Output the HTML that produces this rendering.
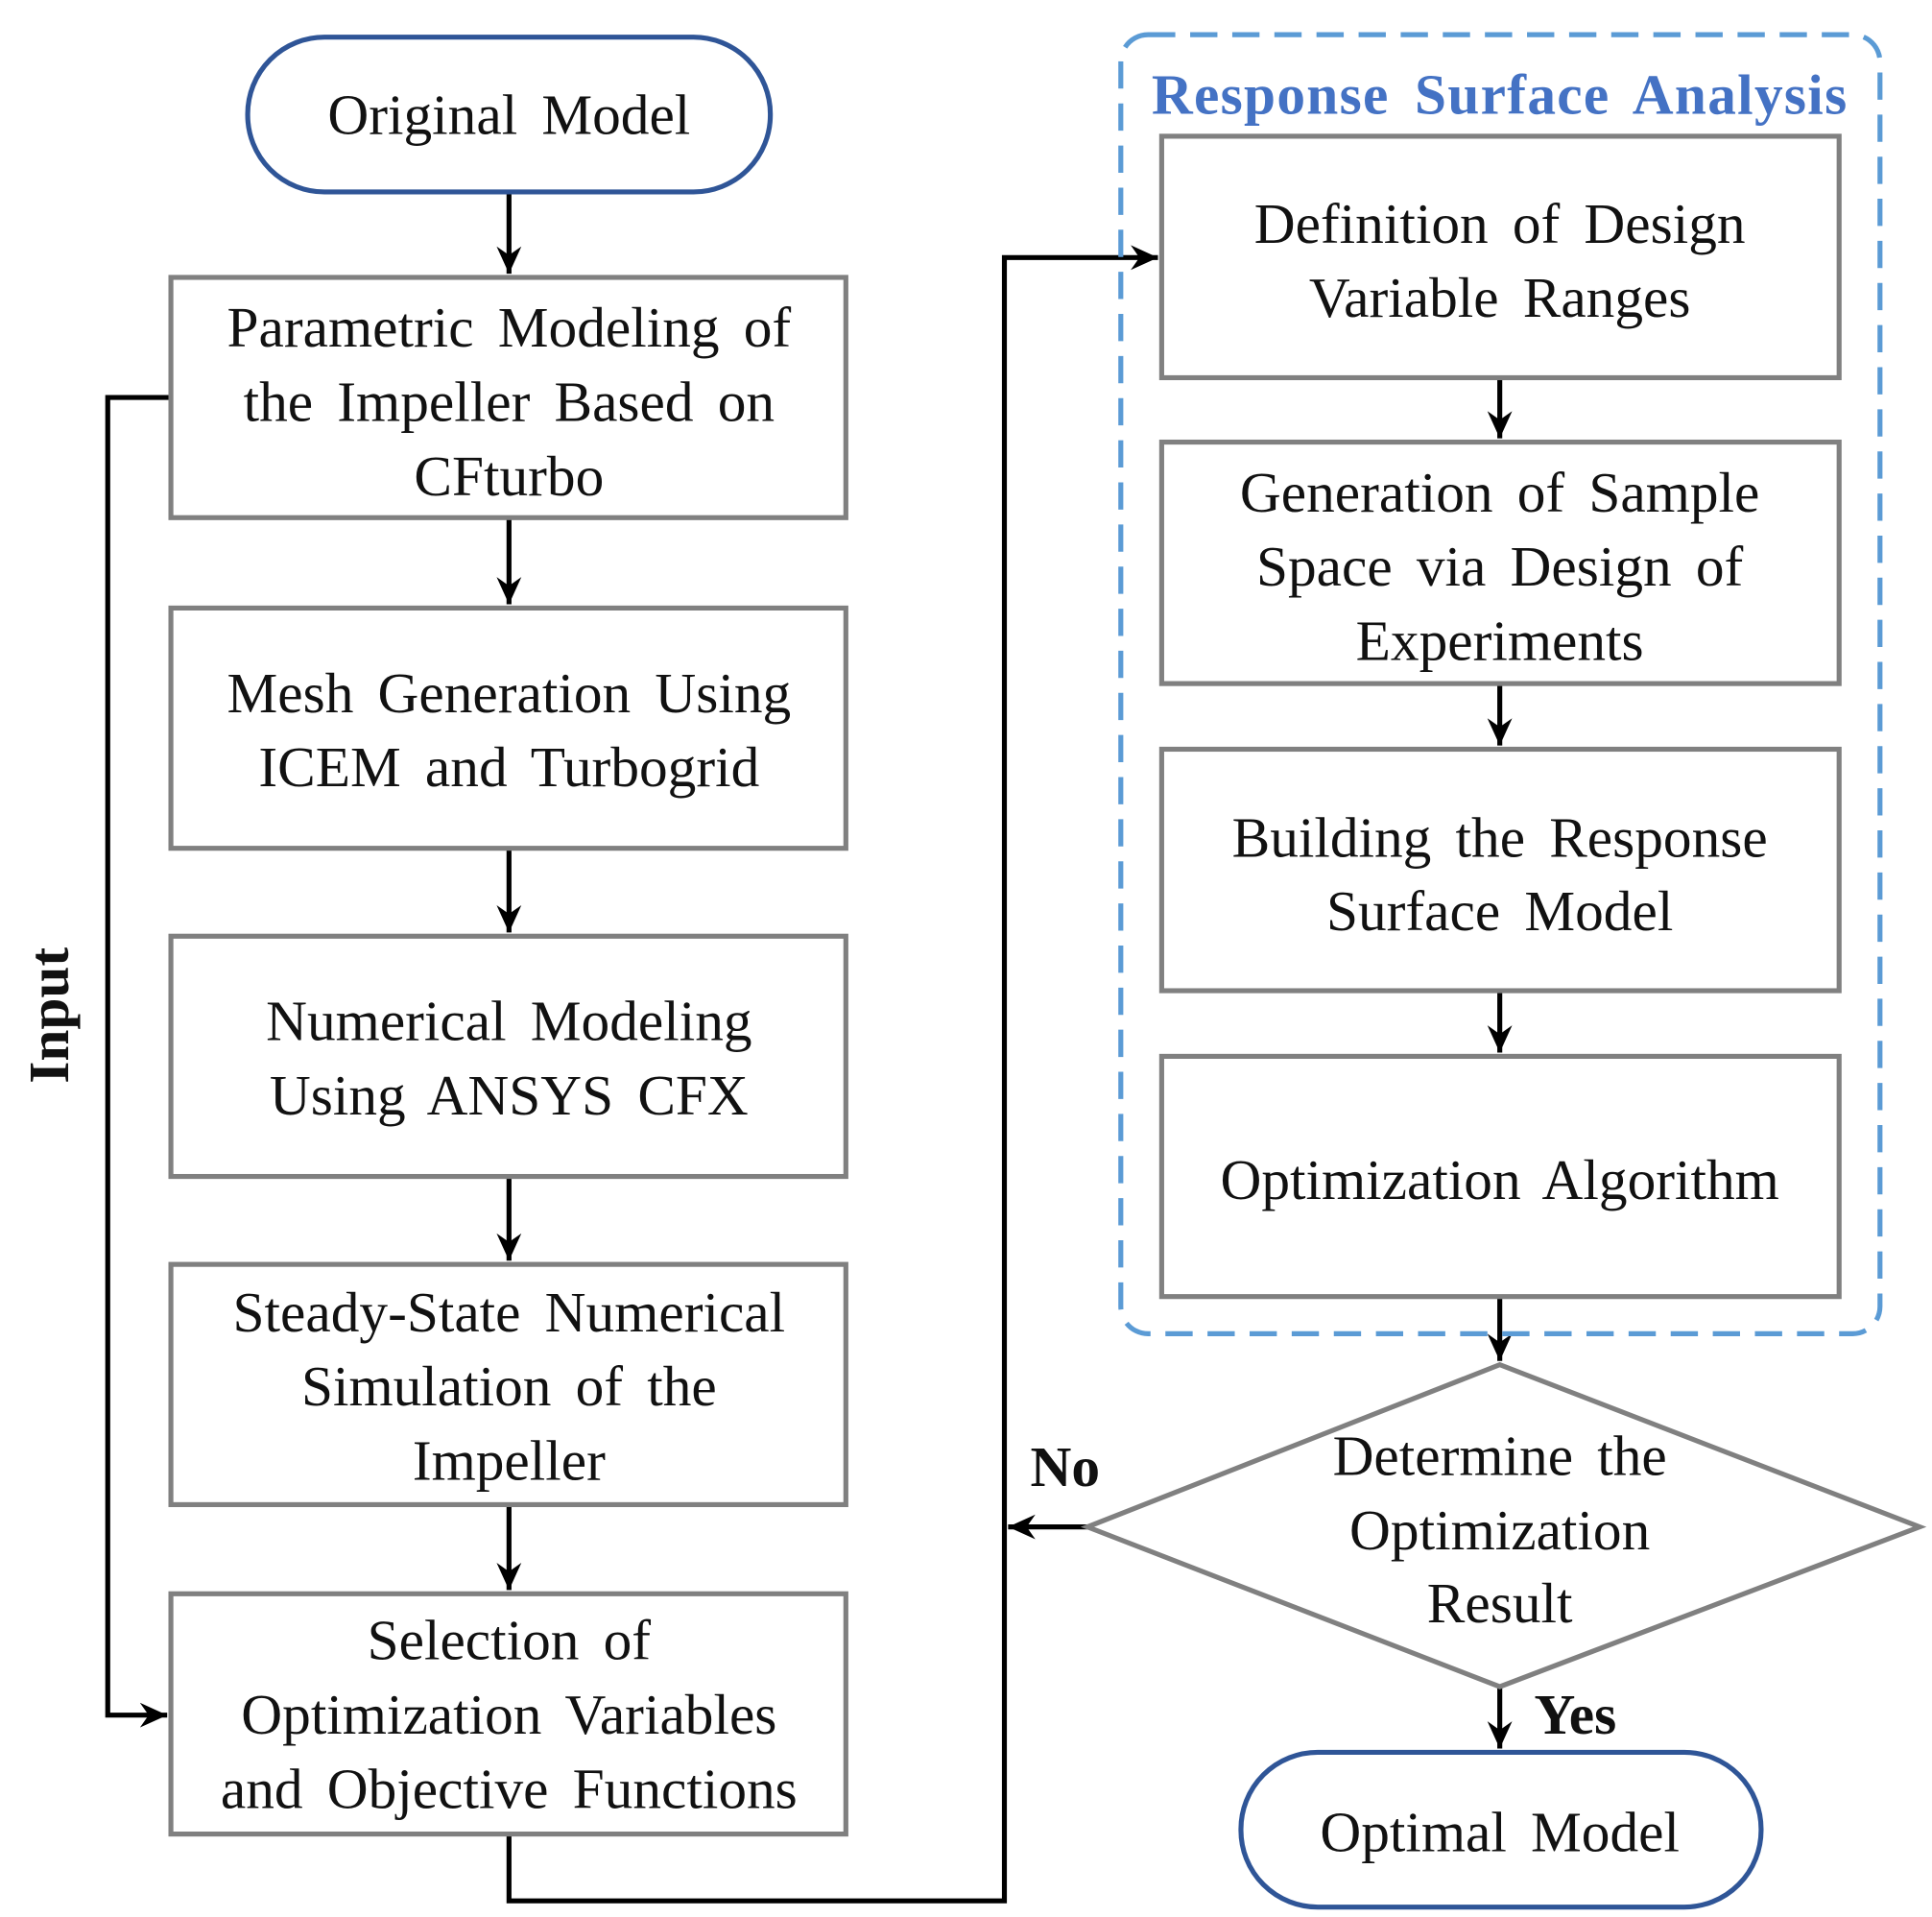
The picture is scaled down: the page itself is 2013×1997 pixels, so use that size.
<!DOCTYPE html>
<html><head><meta charset="utf-8"><style>
html,body{margin:0;padding:0;background:#fff;}
svg{display:block;}
text{font-family:"Liberation Serif",serif;font-size:46px;fill:#111;text-anchor:middle;word-spacing:8px;}
.b{font-weight:bold;}
</style></head><body>
<svg width="2013" height="1997" viewBox="0 0 1560 1548" preserveAspectRatio="none" xmlns="http://www.w3.org/2000/svg">
<defs>
<marker id="ar" markerWidth="24" markerHeight="24" refX="22" refY="12" orient="auto" markerUnits="userSpaceOnUse"><path d="M0,2 L22,12 L0,22 L7,12 z" fill="#000"/></marker></defs>
<g stroke="#000" stroke-width="4" fill="none">
<line x1="411" y1="155" x2="411" y2="221" marker-end="url(#ar)"/>
<line x1="411" y1="418" x2="411" y2="488" marker-end="url(#ar)"/>
<line x1="411" y1="685" x2="411" y2="753" marker-end="url(#ar)"/>
<line x1="411" y1="950" x2="411" y2="1018" marker-end="url(#ar)"/>
<line x1="411" y1="1215" x2="411" y2="1284" marker-end="url(#ar)"/>
<polyline points="138,321 87,321 87,1385 135,1385" marker-end="url(#ar)"/>
<polyline points="411,1481 411,1535 811,1535 811,208 935,208" marker-end="url(#ar)"/>
<line x1="1211" y1="305" x2="1211" y2="354" marker-end="url(#ar)"/>
<line x1="1211" y1="552" x2="1211" y2="602" marker-end="url(#ar)"/>
<line x1="1211" y1="800" x2="1211" y2="850" marker-end="url(#ar)"/>
<line x1="1211" y1="1047" x2="1211" y2="1099" marker-end="url(#ar)"/>
<line x1="878" y1="1233" x2="814" y2="1233" marker-end="url(#ar)"/>
<line x1="1211" y1="1362" x2="1211" y2="1412" marker-end="url(#ar)"/>
</g>
<rect x="905" y="28" width="613" height="1049" rx="22" fill="none" stroke="#5b9bd5" stroke-width="4" stroke-dasharray="22,12"/>
<rect x="200" y="30" width="422" height="125" rx="62" fill="#fff" stroke="#2f5597" stroke-width="4"/>
<rect x="1002" y="1415" width="420" height="125" rx="62" fill="#fff" stroke="#2f5597" stroke-width="4"/>
<g fill="#fff" stroke="#808080" stroke-width="4">
<rect x="138" y="224" width="545" height="194"/>
<rect x="138" y="491" width="545" height="194"/>
<rect x="138" y="756" width="545" height="194"/>
<rect x="138" y="1021" width="545" height="194"/>
<rect x="138" y="1287" width="545" height="194"/>
<rect x="938" y="110" width="547" height="195"/>
<rect x="938" y="357" width="547" height="195"/>
<rect x="938" y="605" width="547" height="195"/>
<rect x="938" y="853" width="547" height="194"/>
<polygon points="1211,1102 1550,1233 1211,1362 878,1233"/>
</g>
<text x="411" y="108">Original Model</text>
<text x="411" y="280">Parametric Modeling of</text>
<text x="411" y="340">the Impeller Based on</text>
<text x="411" y="400">CFturbo</text>
<text x="411" y="575">Mesh Generation Using</text>
<text x="411" y="635">ICEM and Turbogrid</text>
<text x="411" y="840">Numerical Modeling</text>
<text x="411" y="900">Using ANSYS CFX</text>
<text x="411" y="1075">Steady-State Numerical</text>
<text x="411" y="1135">Simulation of the</text>
<text x="411" y="1195">Impeller</text>
<text x="411" y="1340">Selection of</text>
<text x="411" y="1400">Optimization Variables</text>
<text x="411" y="1460">and Objective Functions</text>
<text x="1211" y="92" class="b" style="fill:#4472c4;letter-spacing:1px">Response Surface Analysis</text>
<text x="1211" y="196">Definition of Design</text>
<text x="1211" y="256">Variable Ranges</text>
<text x="1211" y="413">Generation of Sample</text>
<text x="1211" y="473">Space via Design of</text>
<text x="1211" y="533">Experiments</text>
<text x="1211" y="692">Building the Response</text>
<text x="1211" y="751">Surface Model</text>
<text x="1211" y="968">Optimization Algorithm</text>
<text x="1211" y="1191">Determine the</text>
<text x="1211" y="1251">Optimization</text>
<text x="1211" y="1310">Result</text>
<text x="1211" y="1495">Optimal Model</text>
<text x="860" y="1200" class="b">No</text>
<text x="1272" y="1400" class="b">Yes</text>
<text x="0" y="0" class="b" transform="translate(55,820) rotate(-90)">Input</text>
</svg>
</body></html>
